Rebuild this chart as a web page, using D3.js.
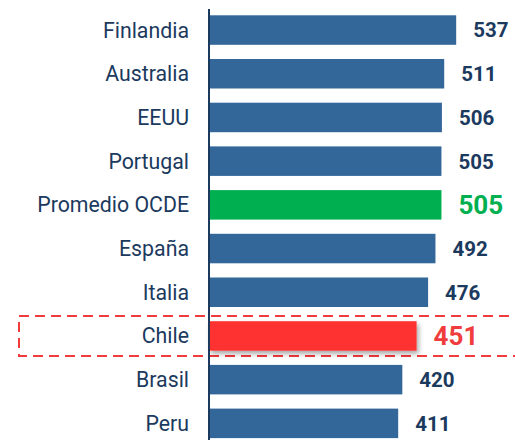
<!DOCTYPE html>
<html><head><meta charset="utf-8">
<script src="https://cdn.jsdelivr.net/npm/d3@7"></script>
<style>html,body{margin:0;padding:0;background:#fff;}svg{display:block;}</style>
</head><body>
<script>
const categories = ["Finlandia","Australia","EEUU","Portugal","Promedio OCDE","España","Italia","Chile","Brasil","Peru"];
const values = [537,511,506,505,505,492,476,451,420,411];
const highlight = ["normal","normal","normal","normal","ocde","normal","normal","chile","normal","normal"];

const W = 515, H = 440;
const svg = d3.select("body").append("svg").attr("width", W).attr("height", H);
const defs = svg.append("defs");
const f = defs.append("filter").attr("id","sh").attr("x","-10%").attr("y","-30%").attr("width","130%").attr("height","180%");
f.append("feDropShadow").attr("dx",2).attr("dy",3).attr("stdDeviation",2.5).attr("flood-color","#000").attr("flood-opacity",0.35);

const x = d3.scaleLinear().domain([0,600]).range([209, 209 + 600*0.4603]);
const y = d3.scaleBand().domain(categories).range([8.2, 445.2]).paddingInner(0.325).paddingOuter(0.1625);

const fill = {normal:"#336699", ocde:"#00b050", chile:"#ff3333"};
const navy = "#1b3a5e";

// dashed highlight box for Chile
const cy = y("Chile") + y.bandwidth()/2;
svg.append("rect").attr("x",19).attr("y",cy-20).attr("width",520).attr("height",40)
  .attr("fill","none").attr("stroke","#f03c3c").attr("stroke-width",2).attr("stroke-dasharray","10,6");

const data = categories.map((c,i)=>({c, v:values[i], h:highlight[i]}));

svg.selectAll("rect.bar").data(data).join("rect").attr("class","bar")
  .attr("x", x(0)).attr("y", d=>y(d.c)).attr("height", y.bandwidth())
  .attr("width", d=>x(d.v)-x(0)).attr("fill", d=>fill[d.h])
  .attr("filter", d=>d.h==="chile"?"url(#sh)":null);

// axis line
svg.append("line").attr("x1",x(0)).attr("x2",x(0)).attr("y1",9).attr("y2",H).attr("stroke",navy).attr("stroke-width",2);

svg.selectAll("text.cat").data(data).join("text").attr("class","cat")
  .attr("x", x(0)-20).attr("y", d=>y(d.c)+y.bandwidth()/2).attr("dy","0.35em")
  .attr("text-anchor","end").attr("font-family","Roboto").attr("font-size",21.3).attr("fill",navy)
  .text(d=>d.c);

svg.selectAll("text.val").data(data).join("text").attr("class","val")
  .attr("x", d=>x(d.v)+17).attr("y", d=>y(d.c)+y.bandwidth()/2).attr("dy","0.36em")
  .attr("font-family","Roboto").attr("font-weight","bold")
  .attr("font-size", d=>d.h==="normal"?20.5:26)
  .attr("fill", d=>d.h==="ocde"?"#00b050":d.h==="chile"?"#f03c3c":navy)
  .text(d=>d.v);
</script>
</body></html>
